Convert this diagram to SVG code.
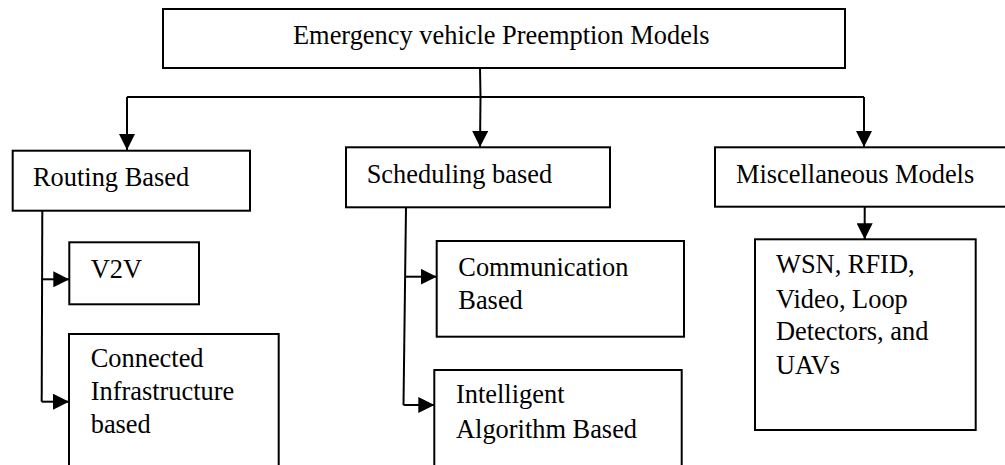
<svg xmlns="http://www.w3.org/2000/svg" width="1005" height="465" viewBox="0 0 1005 465">
<style>
.box{fill:#fff;stroke:#000;stroke-width:2}
.t{font-family:"Liberation Serif","Times New Roman",serif;font-size:26.4px;fill:#000}
.c{fill:none;stroke:#000;stroke-width:2}
</style>
<defs>
<marker id="ah" markerUnits="userSpaceOnUse" markerWidth="16" markerHeight="16" refX="15" refY="7.5" orient="auto" viewBox="0 0 15 15">
<path d="M0,0 L15,7.5 L0,15 Z" fill="#000"/>
</marker>
</defs>
<rect width="1005" height="465" fill="#fff"/>
<g id="connectors">
<path class="c" d="M480,68 L480.5,97"/>
<path class="c" d="M127,97 L864,97"/>
<path class="c" d="M127,97 L127,150" marker-end="url(#ah)"/>
<path class="c" d="M480.5,97 L480,147" marker-end="url(#ah)"/>
<path class="c" d="M864,97 L864,147" marker-end="url(#ah)"/>
<path class="c" d="M42.3,211 L41.7,401.7"/>
<path class="c" d="M42,279.3 L69.3,279.3" marker-end="url(#ah)"/>
<path class="c" d="M41.7,401.7 L69,401.7" marker-end="url(#ah)"/>
<path class="c" d="M406,207.3 L403.5,405"/>
<path class="c" d="M405,276.7 L436.7,276.7" marker-end="url(#ah)"/>
<path class="c" d="M403.5,405 L434.3,405" marker-end="url(#ah)"/>
<path class="c" d="M864.7,206.7 L864.7,239.3" marker-end="url(#ah)"/>
</g>
<g id="root">
<rect class="box" x="163" y="9" width="682" height="59"/>
<text class="t" x="293" y="44">Emergency vehicle Preemption Models</text>
</g>
<g id="routing">
<rect class="box" x="12.7" y="150.7" width="237.3" height="60"/>
<text class="t" x="33" y="186">Routing Based</text>
</g>
<g id="scheduling">
<rect class="box" x="346" y="147.3" width="264" height="60"/>
<text class="t" x="366.7" y="183">Scheduling based</text>
</g>
<g id="misc">
<rect class="box" x="715" y="147.3" width="300" height="59.4"/>
<text class="t" x="736" y="182.7">Miscellaneous Models</text>
</g>
<g id="v2v">
<rect class="box" x="69.3" y="242.3" width="129.7" height="62"/>
<text class="t" x="90.7" y="278.3">V2V</text>
</g>
<g id="connected">
<rect class="box" x="69" y="334" width="209.7" height="140"/>
<text class="t" x="90.7" y="366.7">Connected</text>
<text class="t" x="90.7" y="400">Infrastructure</text>
<text class="t" x="90.7" y="433.3">based</text>
</g>
<g id="communication">
<rect class="box" x="436.7" y="241" width="247.3" height="95.7"/>
<text class="t" x="458.3" y="276">Communication</text>
<text class="t" x="458.3" y="309.3">Based</text>
</g>
<g id="intelligent">
<rect class="box" x="434.3" y="370" width="247.4" height="110"/>
<text class="t" x="456" y="403.3">Intelligent</text>
<text class="t" x="456" y="438.3">Algorithm Based</text>
</g>
<g id="wsn">
<rect class="box" x="755" y="239.3" width="220.7" height="190.7"/>
<text class="t" x="776" y="273.3">WSN, RFID,</text>
<text class="t" x="776" y="308.3">Video, Loop</text>
<text class="t" x="776" y="340">Detectors, and</text>
<text class="t" x="776" y="374.3">UAVs</text>
</g>
</svg>
